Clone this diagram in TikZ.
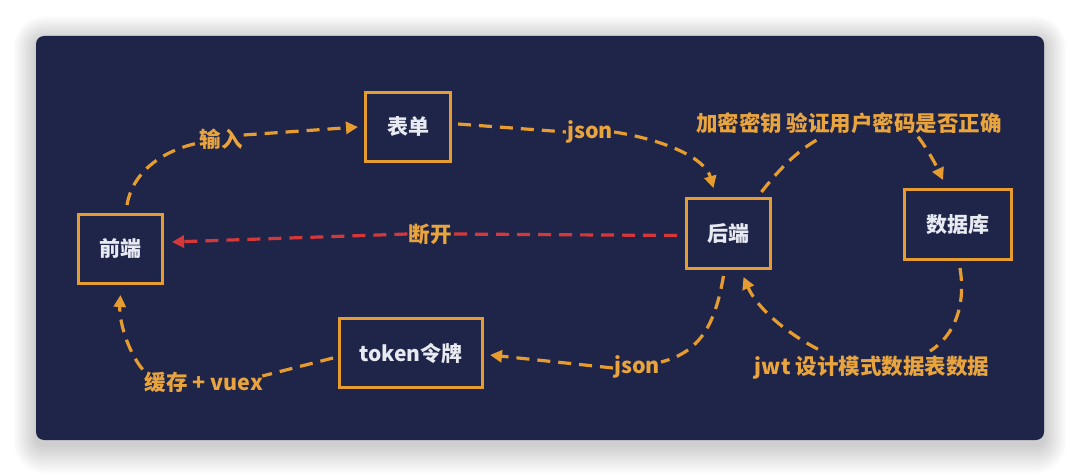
\documentclass[tikz,border=0pt]{standalone}
\usepackage{fontspec}
\setmainfont{Noto Sans CJK SC}
\usetikzlibrary{arrows.meta,calc}
\definecolor{panel}{RGB}{31,37,73}
\definecolor{amber}{RGB}{230,156,46}
\definecolor{amberText}{RGB}{233,164,62}
\definecolor{alarm}{RGB}{214,56,58}
\definecolor{boxText}{RGB}{232,234,242}
\begin{document}
\begin{tikzpicture}[x=1pt,y=-1pt,
  box/.style={draw=amber,line width=3pt,text=boxText,inner sep=0pt,
    font=\fontsize{21}{24}\selectfont\bfseries},
  lbl/.style={text=amberText,inner sep=1pt,
    font=\fontsize{21.5}{26}\selectfont\bfseries},
  flow/.style={draw=amber,line width=3.2pt,dash pattern=on 13pt off 8pt},
  cut/.style={draw=alarm,line width=3.2pt,dash pattern=on 13pt off 8pt},
  tip/.style={-{Triangle[length=12pt,width=12pt]}}]

% page and soft shadow under the panel
\useasboundingbox (0,0) rectangle (1080,476);
\fill[white] (0,0) rectangle (1080,476);
\foreach \i in {1,...,16}{
  \fill[black,opacity=0.011,rounded corners={8+\i*1.5}]
    (36-\i*1.4,36-\i*1.5+4) rectangle (1044+\i*1.4,440+\i*1.8+5);
}
\fill[panel,rounded corners=8pt] (36,36) rectangle (1044,440);

% boxes
\node[box,minimum width=84pt,minimum height=69pt] (qd)  at (120.5,249) {前端};
\node[box,minimum width=85pt,minimum height=69pt] (bd)  at (408,127)   {表单};
\node[box,minimum width=84pt,minimum height=70pt] (hd)  at (728.5,233.5) {后端};
\node[box,minimum width=107pt,minimum height=70pt] (sjk) at (958,224.5) {数据库};
\node[box,minimum width=143pt,minimum height=69pt] (tk)  at (411,353)   {token令牌};

% connector labels
\node[lbl] (l1) at (221,139) {输入};
\node[lbl] (l2) at (590,132) {json};
\node[lbl] (l3) at (430,234) {断开};
\node[lbl] (l4) at (849,123) {加密密钥 验证用户密码是否正确};
\node[lbl] (l5) at (637,367) {json};
\node[lbl] (l6) at (872,368) {jwt 设计模式数据表数据};
\node[lbl] (l7) at (204,382) {缓存 + vuex};

% 前端 -> 表单
\draw[flow] ($(qd.north)+(6.5,-8)$) .. controls (133,170) and (165,150) .. ($(l1.west)+(0,4)$);
\draw[flow,tip] ($(l1.east)+(0,-4)$) -- ($(bd.west)+(-6,0)$);

% 表单 -> 后端
\draw[flow] ($(bd.east)+(6,-3)$) -- (l2.west);
\draw[flow,tip] (l2.east) .. controls (665,140) and (705,158) .. ($(hd.north)+(-15,-9)$);

% 后端 -> 前端 (disconnect)
\draw[cut] ($(hd.west)+(-8,2)$) -- (l3.east);
\draw[cut,tip] (l3.west) -- ($(qd.east)+(8,-7)$);

% 后端 -> 数据库
\draw[flow] ($(hd.north)+(33,-5)$) .. controls (780,168) and (800,148) .. ($(l4.south)+(-26,2)$);
\draw[flow,tip] ($(l4.south)+(69,2)$) .. controls (928,150) and (936,165) .. ($(sjk.north)+(-15,-8)$);

% 后端 -> token令牌
\draw[flow] ($(hd.south)+(-5,6)$) .. controls (715,325) and (700,352) .. ($(l5.east)+(0,-5)$);
\draw[flow,tip] ($(l5.west)+(0,1)$) -- ($(tk.east)+(6,2)$);

% 数据库 -> 后端
\draw[flow] ($(sjk.south)+(2,7)$) .. controls (966,305) and (955,335) .. ($(l6.north)+(58,-4)$);
\draw[flow,tip] ($(l6.north)+(-54,-6)$) .. controls (790,335) and (758,310) .. ($(hd.south)+(15,7)$);

% token令牌 -> 前端
\draw[flow] ($(tk.west)+(-5,5)$) -- ($(l7.east)+(-2,-6)$);
\draw[flow,tip] ($(l7.north west)+(-1,-1)$) .. controls (127,350) and (119,320) .. ($(qd.south)+(0,10)$);

\end{tikzpicture}
\end{document}
